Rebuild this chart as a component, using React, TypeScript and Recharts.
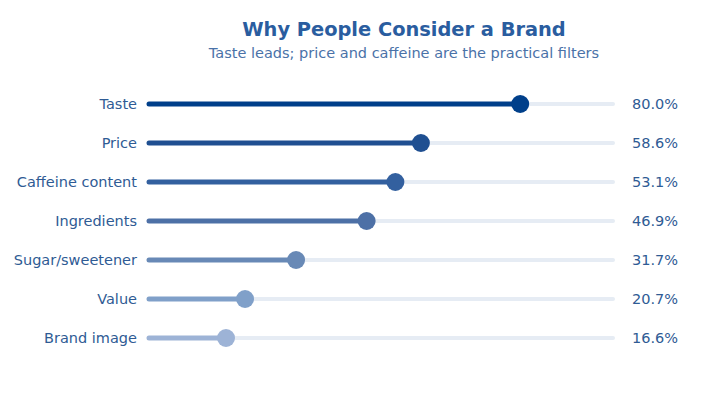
import { ComposedChart, Bar, XAxis, YAxis } from 'recharts';

const categories = [
    'Taste',
    'Price',
    'Caffeine content',
    'Ingredients',
    'Sugar/sweetener',
    'Value',
    'Brand image',
];
const shares = [80.0, 58.6, 53.1, 46.9, 31.7, 20.7, 16.6];
const colors = ['#003f8a', '#1f4f91', '#33609f', '#4d70a6', '#6889b6', '#80a0c9', '#9db3d6'];

const TEXT = '#2f5b94';
const TRACK = '#e6ecf4';

const data = categories.map((name, i) => ({ name, share: shares[i], color: colors[i] }));

const Track = (props: any) => {
    const { x, y, width, height } = props;
    const cy = y + height / 2;
    return (
        <line
            x1={x}
            x2={x + width}
            y1={cy}
            y2={cy}
            stroke={TRACK}
            strokeWidth={4}
            strokeLinecap='round'
        />
    );
};

const Lollipop = (props: any) => {
    const { x, y, width, height, payload } = props;
    const cy = y + height / 2;
    const end = x + width;
    return (
        <g>
            <line
                x1={x}
                x2={end}
                y1={cy}
                y2={cy}
                stroke={payload.color}
                strokeWidth={5}
                strokeLinecap='round'
            />
            <circle cx={end} cy={cy} r={9} fill={payload.color} />
        </g>
    );
};

const App = () => {
    const font = '"DejaVu Sans", sans-serif';
    return (
        <div style={{ position: 'absolute', left: 0, top: 0, width: 710, height: 400, fontFamily: font }}>
            <div
                style={{
                    position: 'absolute',
                    left: 0,
                    width: 808,
                    top: 18,
                    textAlign: 'center',
                    fontSize: 19.4,
                    fontWeight: 'bold',
                    color: '#2a5d9f',
                    lineHeight: '24px',
                }}
            >
                Why People Consider a Brand
            </div>
            <div
                style={{
                    position: 'absolute',
                    left: 0,
                    width: 808,
                    top: 44,
                    textAlign: 'center',
                    fontSize: 14.5,
                    color: '#4a72a8',
                    lineHeight: '18px',
                }}
            >
                Taste leads; price and caffeine are the practical filters
            </div>
            <ComposedChart
                width={710}
                height={400}
                data={data}
                layout='vertical'
                margin={{ top: 84.5, right: 37, left: 9, bottom: 42.5 }}
            >
                <XAxis type='number' domain={[0, 100]} hide />
                <YAxis
                    yAxisId='left'
                    type='category'
                    dataKey='name'
                    width={140}
                    axisLine={false}
                    tickLine={false}
                    tickMargin={6}
                    tick={{ fill: TEXT, fontSize: 14.5, fontFamily: font }}
                />
                <YAxis
                    yAxisId='right'
                    orientation='right'
                    type='category'
                    dataKey='name'
                    width={60}
                    axisLine={false}
                    tickLine={false}
                    tickMargin={13}
                    tickFormatter={(v: string) => shares[categories.indexOf(v)].toFixed(1) + '%'}
                    tick={{ fill: TEXT, fontSize: 14.5, fontFamily: font, textAnchor: 'start' }}
                />
                <Bar
                    yAxisId='left'
                    dataKey='share'
                    barSize={5}
                    background={<Track />}
                    shape={<Lollipop />}
                    isAnimationActive={false}
                />
            </ComposedChart>
        </div>
    );
};

export default App;
